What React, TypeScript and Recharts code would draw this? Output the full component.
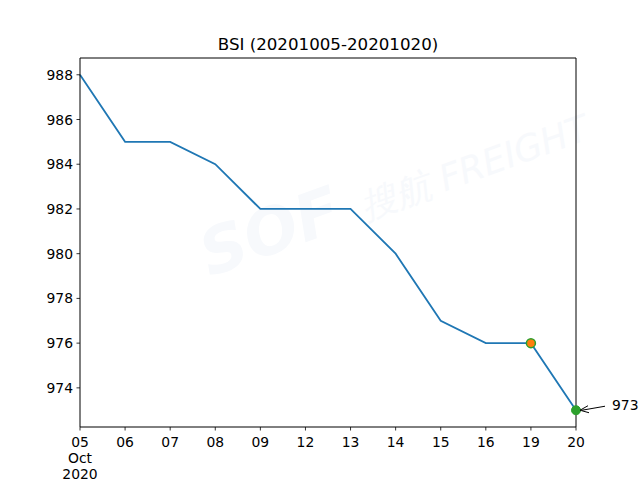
import React from 'react';
import { LineChart, Line, XAxis, YAxis } from 'recharts';

const dates = ['05', '06', '07', '08', '09', '12', '13', '14', '15', '16', '19', '20'];
const bsi = [988, 985, 985, 984, 982, 982, 982, 980, 977, 976, 976, 973];
const yTicks = [974, 976, 978, 980, 982, 984, 986, 988];

const data = dates.map((d, i) => ({ date: d, value: bsi[i] }));

const FONT = '"DejaVu Sans", sans-serif';
const FS = 13.9;

// tick y/x arrive offset by tickSize (3.5) + tickMargin (2)
const XTick = (props: any) => {
  const { x, y, payload, index } = props;
  return (
    <g>
      <text x={x} y={y + 14} textAnchor="middle" fontSize={FS} fontFamily={FONT} fill="#000">
        {payload.value}
      </text>
      {index === 0 && (
        <>
          <text x={x} y={y + 30} textAnchor="middle" fontSize={FS} fontFamily={FONT} fill="#000">Oct</text>
          <text x={x} y={y + 46} textAnchor="middle" fontSize={FS} fontFamily={FONT} fill="#000">2020</text>
        </>
      )}
    </g>
  );
};

const YTick = (props: any) => {
  const { x, y, payload } = props;
  return (
    <text x={x - 1.5} y={y + 5} textAnchor="end" fontSize={FS} fontFamily={FONT} fill="#000">
      {payload.value}
    </text>
  );
};

const Dot = (props: any) => {
  const { cx, cy, index, value } = props;
  if (index === bsi.length - 2) {
    return <circle key={index} cx={cx} cy={cy} r={4.5} fill="#ff7f0e" stroke="#2ca02c" strokeWidth={1.5} />;
  }
  if (index === bsi.length - 1) {
    const v = Array.isArray(value) ? value[1] : value;
    return (
      <g key={index}>
        <circle cx={cx} cy={cy} r={4.5} fill="#2ca02c" stroke="#2ca02c" strokeWidth={1} />
        <line x1={cx + 29} y1={cy - 4} x2={cx + 6} y2={cy} stroke="#000" strokeWidth={1} />
        <path d={`M ${cx + 4} ${cy} L ${cx + 12} ${cy - 4.5} M ${cx + 4} ${cy} L ${cx + 13} ${cy + 2.5}`} stroke="#000" strokeWidth={1} fill="none" />
        <text x={cx + 36} y={cy} fontSize={FS} fontFamily={FONT} fill="#000">{v}</text>
      </g>
    );
  }
  return <g key={index} />;
};

export default function App() {
  return (
    <div style={{ position: 'absolute', left: 0, top: 0, width: 640, height: 480, background: '#fff' }}>
      <div
        style={{
          position: 'absolute', left: 190, top: 150, transform: 'rotate(-20deg)',
          fontFamily: FONT, fontWeight: 'bold', fontStyle: 'italic', color: '#f7f9fc', fontSize: 64, whiteSpace: 'nowrap',
        }}
      >
        SOF <span style={{ fontSize: 36, fontWeight: 'normal' }}>搜航 FREIGHT</span>
      </div>
      <svg width={640} height={480} style={{ position: 'absolute', left: 0, top: 0 }}>
        <text x={328} y={50} textAnchor="middle" fontSize={16.67} fontFamily={FONT} fill="#000">
          BSI (20201005-20201020)
        </text>
      </svg>
      <div style={{ position: 'absolute', left: 0, top: 0 }}>
        <LineChart width={640} height={480} data={data} margin={{ top: 57, right: 63, bottom: 0, left: 0 }}>
          <XAxis
            dataKey="date"
            xAxisId="bottom"
            height={53}
            axisLine={{ stroke: '#000', strokeWidth: 1 }}
            tickLine={{ stroke: '#000', strokeWidth: 0.8 }}
            tickSize={3.5}
            tick={<XTick />}
            interval={0}
          />
          <XAxis dataKey="date" xAxisId="top" orientation="top" height={1} axisLine={{ stroke: '#000', strokeWidth: 1 }} tick={false} tickLine={false} />
          <YAxis
            yAxisId="left"
            width={80}
            domain={[972.25, 988.75]}
            ticks={yTicks}
            allowDataOverflow
            axisLine={{ stroke: '#000', strokeWidth: 1 }}
            tickLine={{ stroke: '#000', strokeWidth: 0.8 }}
            tickSize={3.5}
            tick={<YTick />}
            interval={0}
          />
          <YAxis yAxisId="right" orientation="right" width={1} domain={[972.25, 988.75]} axisLine={{ stroke: '#000', strokeWidth: 1 }} tick={false} tickLine={false} />
          <Line
            xAxisId="bottom"
            yAxisId="left"
            type="linear"
            dataKey="value"
            stroke="#1f77b4"
            strokeWidth={1.8}
            dot={<Dot />}
            activeDot={false}
            isAnimationActive={false}
          />
        </LineChart>
      </div>
    </div>
  );
}
